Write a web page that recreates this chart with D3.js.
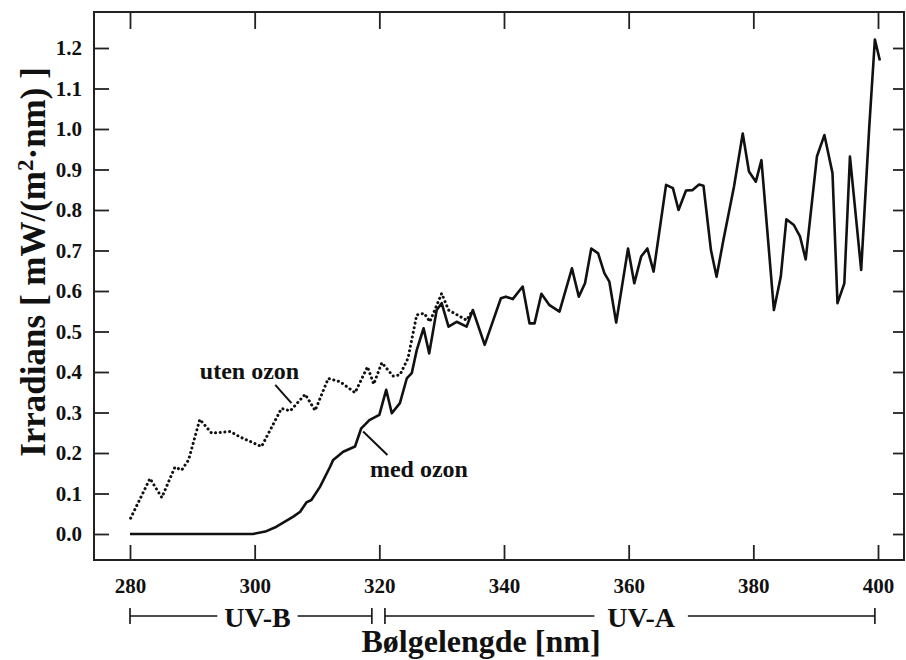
<!DOCTYPE html>
<html><head><meta charset="utf-8">
<script src="https://cdn.jsdelivr.net/npm/d3@7"></script>
<style>
html,body{margin:0;padding:0;background:#fff;}
svg{display:block;}
text{font-family:"Liberation Serif","DejaVu Serif",serif;font-weight:bold;fill:#111;}
</style></head>
<body>
<svg id="chart" width="906" height="660"></svg>
<script>
// ---- data ----
const xTicks = [280, 300, 320, 340, 360, 380, 400];
const yTicks = [0.0, 0.1, 0.2, 0.3, 0.4, 0.5, 0.6, 0.7, 0.8, 0.9, 1.0, 1.1, 1.2];

// "med ozon" (solid)
const medNm = [280, 290, 299.7, 301.7, 303.5, 306.2, 307.3, 308.3, 309.1, 310.5, 312.1, 312.6, 314.2, 316.1, 317.1, 318.4, 320, 321.1, 322, 323.3, 324.4, 325.2, 326, 327.1, 328, 329.2, 330, 331.1, 332.4, 334, 335, 336.9, 339.5, 340.3, 341.4, 343, 344.1, 344.9, 346, 347.3, 348.9, 350.9, 352, 353, 354, 355.1, 356.1, 356.9, 358, 359.9, 360.9, 362, 363, 364, 366, 367.1, 368, 369.2, 370.2, 371.3, 372, 373.2, 374.1, 375.2, 376.9, 378.3, 379.3, 380.4, 381.3, 383.3, 384.4, 385.3, 386.5, 387.5, 388.4, 390.2, 391.4, 392.7, 393.5, 394.6, 395.5, 397.3, 398.6, 399.5, 400.3];
const medVal = [0, 0, 0, 0.006, 0.018, 0.043, 0.055, 0.078, 0.084, 0.117, 0.166, 0.183, 0.203, 0.216, 0.261, 0.281, 0.294, 0.356, 0.298, 0.323, 0.384, 0.397, 0.454, 0.508, 0.446, 0.553, 0.57, 0.512, 0.524, 0.512, 0.553, 0.467, 0.582, 0.586, 0.58, 0.611, 0.52, 0.52, 0.593, 0.565, 0.549, 0.656, 0.586, 0.619, 0.705, 0.693, 0.644, 0.623, 0.522, 0.705, 0.619, 0.685, 0.705, 0.648, 0.862, 0.854, 0.8, 0.848, 0.849, 0.863, 0.86, 0.701, 0.635, 0.726, 0.858, 0.989, 0.895, 0.87, 0.923, 0.553, 0.635, 0.777, 0.763, 0.734, 0.678, 0.932, 0.985, 0.891, 0.57, 0.619, 0.932, 0.652, 1.006, 1.221, 1.169];

// "uten ozon" (dotted)
const utenNm = [280.1, 283.2, 285.1, 287.2, 288.3, 289.4, 291.2, 293.1, 296.1, 297.6, 301.1, 304.3, 305.7, 308.1, 309.7, 311.8, 313.7, 316.1, 318.1, 319.1, 320.4, 322.2, 323.3, 324.6, 326, 327.2, 328.1, 330, 331.1, 334, 335];
const utenVal = [0.039, 0.137, 0.09, 0.165, 0.158, 0.183, 0.283, 0.249, 0.253, 0.24, 0.216, 0.31, 0.304, 0.345, 0.305, 0.384, 0.376, 0.349, 0.413, 0.37, 0.423, 0.39, 0.393, 0.434, 0.541, 0.545, 0.524, 0.594, 0.553, 0.528, 0.553];

// annotations (data units)
const utenLabel = {text: "uten ozon", nm: 291.2, v: 0.383, lead: [[303.3, 0.368], [305.9, 0.323]]};
const medLabel = {text: "med ozon", nm: 318.5, v: 0.141, lead: [[317.4, 0.253], [321.3, 0.195]]};
const bands = [
  {name: "UV-B", from: 280, to: 318.8, textFrom: 294.0, textTo: 306.9},
  {name: "UV-A", from: 320.9, to: 399.5, textFrom: 354.5, textTo: 369.5}
];

// ---- layout ----
const svg = d3.select("#chart");
const frame = {left: 94, top: 12, right: 904, bottom: 560};
const x = d3.scaleLinear().domain([280, 400]).range([130, 878]);
const y = d3.scaleLinear().domain([0, 1.2]).range([534, 48]);
const ink = "#111";

// frame
svg.append("rect")
  .attr("x", frame.left).attr("y", frame.top)
  .attr("width", frame.right - frame.left).attr("height", frame.bottom - frame.top)
  .attr("fill", "none").attr("stroke", "#222").attr("stroke-width", 2);

// axes
const fmtY = d3.format(".1f");
const gl = svg.append("g").attr("transform", `translate(${frame.left},0)`)
  .call(d3.axisLeft(y).tickValues(yTicks).tickFormat(fmtY).tickSizeInner(-15).tickSizeOuter(0).tickPadding(12));
const gb = svg.append("g").attr("transform", `translate(0,${frame.bottom})`)
  .call(d3.axisBottom(x).tickValues(xTicks).tickFormat(d3.format("d")).tickSizeInner(-15).tickSizeOuter(0).tickPadding(18));
const gt = svg.append("g").attr("transform", `translate(0,${frame.top})`)
  .call(d3.axisTop(x).tickValues(xTicks).tickFormat("").tickSizeInner(-17).tickSizeOuter(0));
const gr = svg.append("g").attr("transform", `translate(${frame.right},0)`)
  .call(d3.axisRight(y).tickValues(yTicks).tickFormat("").tickSizeInner(-11).tickSizeOuter(0));
[gl, gb, gt, gr].forEach(g => {
  g.select(".domain").remove();
  g.selectAll(".tick line").attr("stroke", "#222").attr("stroke-width", 1.8);
  g.selectAll(".tick text").attr("fill", ink)
    .style("font-family", '"Liberation Serif","DejaVu Serif",serif')
    .style("font-weight", "bold").style("font-size", "21px");
});

// lines
const line = d3.line().x(d => x(d[0])).y(d => y(d[1]));
svg.append("path")
  .datum(utenNm.map((n, i) => [n, utenVal[i]]))
  .attr("d", line).attr("fill", "none").attr("stroke", ink)
  .attr("stroke-width", 3).attr("stroke-linecap", "round").attr("stroke-linejoin", "round")
  .attr("stroke-dasharray", "0.1 4.6");
svg.append("path")
  .datum(medNm.map((n, i) => [n, medVal[i]]))
  .attr("d", line).attr("fill", "none").attr("stroke", ink)
  .attr("stroke-width", 2.6).attr("stroke-linejoin", "round");

// annotations
[utenLabel, medLabel].forEach(a => {
  svg.append("text").attr("x", x(a.nm)).attr("y", y(a.v))
    .style("font-size", "24px").text(a.text);
  svg.append("line")
    .attr("x1", x(a.lead[0][0])).attr("y1", y(a.lead[0][1]))
    .attr("x2", x(a.lead[1][0])).attr("y2", y(a.lead[1][1]))
    .attr("stroke", ink).attr("stroke-width", 2);
});

// UV bands below axis
const bandY = 616;
bands.forEach(b => {
  const x0 = x(b.from), x1 = x(b.to), t0 = x(b.textFrom), t1 = x(b.textTo);
  const g = svg.append("g");
  g.append("line").attr("x1", x0).attr("x2", t0).attr("y1", bandY).attr("y2", bandY).attr("stroke", ink).attr("stroke-width", 1.6);
  g.append("line").attr("x1", t1).attr("x2", x1).attr("y1", bandY).attr("y2", bandY).attr("stroke", ink).attr("stroke-width", 1.6);
  [x0, x1].forEach(xx => g.append("line").attr("x1", xx).attr("x2", xx).attr("y1", bandY - 8).attr("y2", bandY + 8).attr("stroke", ink).attr("stroke-width", 1.6));
  g.append("text").attr("x", (t0 + t1) / 2).attr("y", bandY + 11).attr("text-anchor", "middle")
    .style("font-size", "28px").text(b.name);
});

// axis titles
svg.append("text").attr("x", 481).attr("y", 652).attr("text-anchor", "middle")
  .style("font-size", "32px").text("Bølgelengde [nm]");
const yt = svg.append("text").attr("transform", "translate(45,262) rotate(-90)").attr("text-anchor", "middle")
  .style("font-size", "35px");
yt.append("tspan").text("Irradians [ mW/(m");
yt.append("tspan").attr("dy", -12).style("font-size", "23px").text("2");
yt.append("tspan").attr("dy", 12).text("·nm) ]");
</script>
</body></html>
